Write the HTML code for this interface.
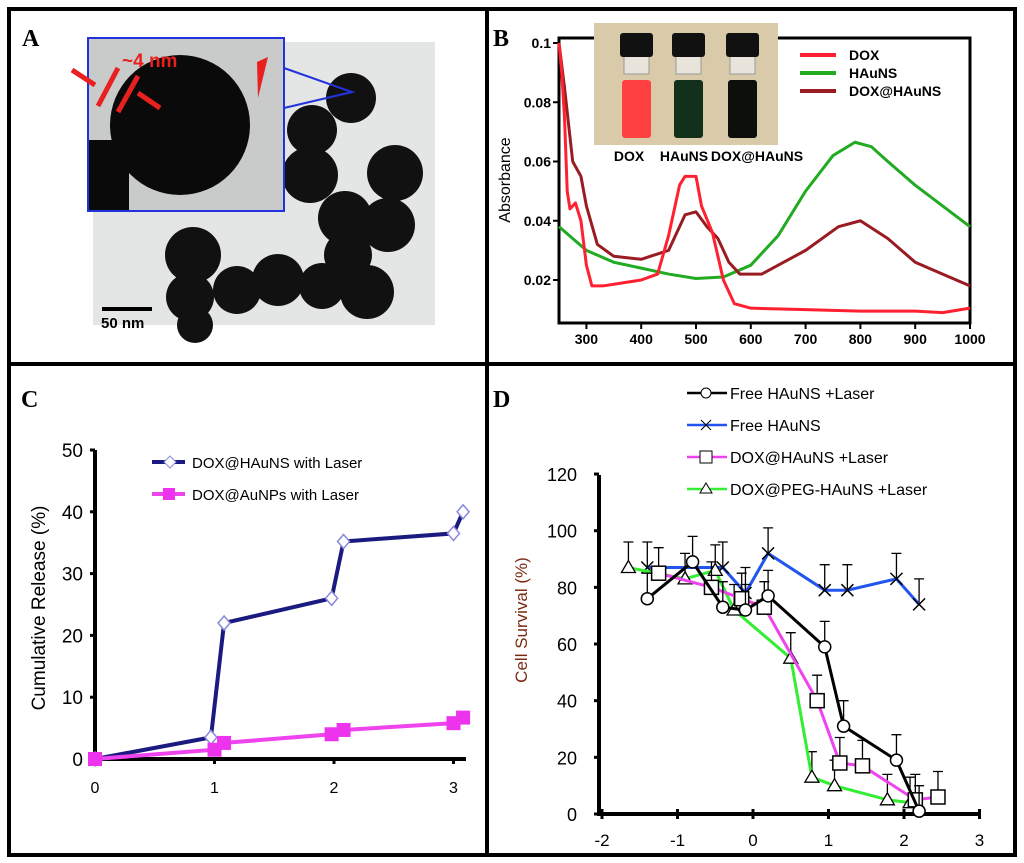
<!DOCTYPE html>
<html><head><meta charset="utf-8"><style>
body{margin:0;background:#fff;}
svg{display:block;font-family:"Liberation Sans",sans-serif;}
</style></head><body>
<svg id="fig" width="1024" height="863" viewBox="0 0 1024 863">
<rect x="0" y="0" width="1024" height="863" fill="#fff"/>
<g fill="none" stroke="#000" stroke-width="4">
<rect x="9" y="9" width="1006" height="846"/>
<line x1="487" y1="9" x2="487" y2="855"/>
<line x1="9" y1="364" x2="1015" y2="364"/>
</g>
<g font-family="Liberation Serif,serif" font-weight="bold" font-size="24">
<text x="22" y="46">A</text>
<text x="493" y="46">B</text>
<text x="21" y="407">C</text>
<text x="493" y="407">D</text>
</g>
<!-- Panel A: TEM image -->
<g>
<rect x="93" y="42" width="342" height="283" fill="#e4e6e6"/>
<g fill="#111">
<circle cx="351" cy="98" r="25"/><circle cx="312" cy="130" r="25"/><circle cx="310" cy="175" r="28"/>
<circle cx="395" cy="173" r="28"/><circle cx="345" cy="218" r="27"/><circle cx="388" cy="225" r="27"/>
<circle cx="348" cy="255" r="24"/><circle cx="193" cy="255" r="28"/><circle cx="190" cy="297" r="24"/>
<circle cx="237" cy="290" r="24"/><circle cx="278" cy="280" r="26"/><circle cx="322" cy="286" r="23"/>
<circle cx="367" cy="292" r="27"/><circle cx="195" cy="325" r="18"/>
</g>
<rect x="102" y="307" width="50" height="4" fill="#000"/>
<text x="101" y="328" font-size="15" font-weight="bold">50 nm</text>
<g>
<rect x="88" y="38" width="196" height="173" fill="#c9cbcb" stroke="#2233dd" stroke-width="2"/>
<circle cx="180" cy="125" r="70" fill="#0a0a0a"/>
<rect x="89" y="140" width="40" height="70" fill="#0a0a0a"/>
<polyline points="284,68 352,92 284,108" fill="none" stroke="#2233dd" stroke-width="2"/>
<text x="122" y="67" font-size="19" font-weight="bold" fill="#e82020">~4 nm</text>
<g stroke="#e82020" stroke-width="5" fill="#e82020">
<line x1="72" y1="70" x2="95" y2="85"/><line x1="98" y1="106" x2="118" y2="68"/>
<line x1="118" y1="112" x2="138" y2="76"/><line x1="160" y1="108" x2="138" y2="93"/>
</g>
<polygon points="257,62 268,57 258,98" fill="#e82020"/>
</g>
</g>
<!-- Panel B -->
<g id="pb"></g>
<!-- Panel C -->
<g id="pc"></g>
<!-- Panel D -->
<g id="pd"></g>
</svg>
<script>
const NS="http://www.w3.org/2000/svg";
function mk(p,t,a){const e=document.createElementNS(NS,t);for(const k in a)e.setAttribute(k,a[k]);p.appendChild(e);return e;}

// ---- Panel B data ----
const bDoxW=[250,255,260,265,270,280,290,300,310,330,400,430,450,470,480,500,510,530,550,570,600,700,800,900,950,1000];
const bDoxA=[0.1,0.09,0.075,0.05,0.044,0.046,0.04,0.025,0.018,0.018,0.02,0.022,0.035,0.052,0.055,0.055,0.045,0.036,0.02,0.012,0.0105,0.01,0.0095,0.0095,0.009,0.0105];
const bHauW=[250,300,350,400,450,500,550,600,650,700,750,790,820,850,900,950,1000];
const bHauA=[0.038,0.03,0.026,0.024,0.022,0.0205,0.021,0.025,0.035,0.05,0.062,0.0665,0.065,0.06,0.052,0.045,0.038];
const bDhW=[250,260,275,290,300,320,350,400,450,480,500,520,540,560,580,620,700,760,800,850,900,950,1000];
const bDhA=[0.1,0.085,0.06,0.055,0.045,0.032,0.028,0.027,0.03,0.042,0.043,0.038,0.034,0.026,0.022,0.022,0.03,0.038,0.04,0.034,0.026,0.022,0.018];
const bXTicks=[300,400,500,600,700,800,900,1000];
const bYTicks=[0.02,0.04,0.06,0.08,0.1];
const bYLabels=["0.02","0.04","0.06","0.08","0.1"];
const bx=w=>559+(w-250)*0.548, by=a=>280-(a-0.02)/0.02*59.25;
{
const g=document.getElementById('pb');
const ax=mk(g,'path',{d:'M559 38 L559 323 L970 323 L970 38 Z',fill:'none',stroke:'#000','stroke-width':3});

bXTicks.forEach(t=>{mk(g,'line',{x1:bx(t),y1:323,x2:bx(t),y2:329,stroke:'#000','stroke-width':2});
 const tx=mk(g,'text',{x:bx(t),y:344,'text-anchor':'middle','font-size':14,'font-weight':'bold'});tx.textContent=t;
 });
bYTicks.forEach((t,i)=>{mk(g,'line',{x1:553,y1:by(t),x2:559,y2:by(t),stroke:'#000','stroke-width':2});
 const tx=mk(g,'text',{x:551,y:by(t)+5,'text-anchor':'end','font-size':14,'font-weight':'bold'});tx.textContent=bYLabels[i];
 });
const yt=mk(g,'text',{x:0,y:0,transform:'translate(510,180) rotate(-90)','text-anchor':'middle','font-size':16});yt.textContent='Absorbance';

[[bHauW,bHauA,'#22aa22','hauns'],[bDhW,bDhA,'#991c22','dox-hauns'],[bDoxW,bDoxA,'#ff2030','dox']].forEach(s=>{
 const pl=mk(g,'polyline',{points:s[0].map((w,i)=>bx(w)+','+by(s[1][i])).join(' '),fill:'none',stroke:s[2],'stroke-width':3,'stroke-linejoin':'round'});
 });
// inset photo
const ph=mk(g,'g',{});
mk(ph,'rect',{x:594,y:23,width:184,height:122,fill:'#d9cba9'});
[[620,'#ff4040'],[672,'#12301c'],[726,'#0d0f0d']].forEach(v=>{
 mk(ph,'rect',{x:v[0]+4,y:44,width:25,height:30,fill:'#e8e4dc',stroke:'#999'});
 mk(ph,'rect',{x:v[0]+2,y:80,width:29,height:58,fill:'#f0ece6',rx:3});
 mk(ph,'rect',{x:v[0]+2,y:80,width:29,height:58,fill:v[1],rx:3});
 mk(ph,'rect',{x:v[0],y:33,width:33,height:24,fill:'#111',rx:3});});
[['DOX',629],['HAuNS',684],['DOX@HAuNS',757]].forEach(l=>{const tx=mk(g,'text',{x:l[1],y:161,'text-anchor':'middle','font-size':14,'font-weight':'bold'});tx.textContent=l[0];
 });
[['DOX','#ff2030'],['HAuNS','#22aa22'],['DOX@HAuNS','#991c22']].forEach((l,i)=>{const yy=55+i*18;
 mk(g,'line',{x1:800,y1:yy,x2:836,y2:yy,stroke:l[1],'stroke-width':4});
 const tx=mk(g,'text',{x:849,y:yy+5,'font-size':14,'font-weight':'bold'});tx.textContent=l[0];
 });
}

// ---- Panel C data ----
const cBlueX=[0,0.97,1.08,1.98,2.08,3.0,3.08];
const cBlueY=[0,3.5,22,26,35.2,36.5,40];
const cPinkX=[0,1,1.08,1.98,2.08,3.0,3.08];
const cPinkY=[0,1.5,2.6,4,4.7,5.8,6.7];
const cXTicks=[0,1,2,3];
const cYTicks=[0,10,20,30,40,50];
const cx=v=>95+v*119.5, cy=v=>759-v*6.18;
{
const g=document.getElementById('pc');
mk(g,'polyline',{points:'95,450 95,759 466,759',fill:'none',stroke:'#000','stroke-width':4});
cXTicks.forEach(t=>{mk(g,'line',{x1:cx(t),y1:759,x2:cx(t),y2:764,stroke:'#000','stroke-width':3});
 const tx=mk(g,'text',{x:cx(t),y:793,'text-anchor':'middle','font-size':16});tx.textContent=t;
 });
cYTicks.forEach(t=>{mk(g,'line',{x1:90,y1:cy(t),x2:95,y2:cy(t),stroke:'#000','stroke-width':3});
 const tx=mk(g,'text',{x:83,y:cy(t)+7,'text-anchor':'end','font-size':19});tx.textContent=t;
 });
const yt=mk(g,'text',{x:0,y:0,transform:'translate(45,608) rotate(-90)','text-anchor':'middle','font-size':19});yt.textContent='Cumulative Release (%)';

const bl=mk(g,'polyline',{points:cBlueX.map((x,i)=>cx(x)+','+cy(cBlueY[i])).join(' '),fill:'none',stroke:'#1a1a80','stroke-width':4});

cBlueX.forEach((x,i)=>{const p=mk(g,'path',{d:`M${cx(x)} ${cy(cBlueY[i])-7} l6 7 l-6 7 l-6 -7 Z`,fill:'#fff',stroke:'#8888dd','stroke-width':1.5});
 });
const pk=mk(g,'polyline',{points:cPinkX.map((x,i)=>cx(x)+','+cy(cPinkY[i])).join(' '),fill:'none',stroke:'#ee44ee','stroke-width':4});

cPinkX.forEach((x,i)=>{const p=mk(g,'rect',{x:cx(x)-7,y:cy(cPinkY[i])-7,width:14,height:14,fill:'#ee33ee'});
 });
mk(g,'line',{x1:152,y1:462,x2:185,y2:462,stroke:'#1a1a80','stroke-width':4});
mk(g,'path',{d:'M170 456 l6 6 l-6 6 l-6 -6 Z',fill:'#fff',stroke:'#8888dd'});
mk(g,'line',{x1:152,y1:494,x2:185,y2:494,stroke:'#ee44ee','stroke-width':4});
mk(g,'rect',{x:163,y:488,width:12,height:12,fill:'#ee33ee'});
[['DOX@HAuNS with Laser',468],['DOX@AuNPs with Laser',500]].forEach(l=>{const tx=mk(g,'text',{x:192,y:l[1],'font-size':15});tx.textContent=l[0];
 });
}

// ---- Panel D data ----
const dCircX=[-1.4,-0.8,-0.4,-0.1,0.2,0.95,1.2,1.9,2.2];
const dCircY=[76,89,73,72,77,59,31,19,1];
const dCrossX=[-1.4,-0.4,-0.1,0.2,0.95,1.25,1.9,2.2];
const dCrossY=[87,87,78,92,79,79,83,74];
const dSqX=[-1.25,-0.55,-0.15,0.15,0.85,1.15,1.45,2.15,2.45];
const dSqY=[85,80,76,73,40,18,17,5,6];
const dTriX=[-1.65,-0.9,-0.5,-0.25,0.5,0.78,1.08,1.78,2.08];
const dTriY=[87,83,86,72,55,13,10,5,4];
const dXTicks=[-2,-1,0,1,2,3];
const dYTicks=[0,20,40,60,80,100,120];
const dx=v=>753+v*75.5, dy=v=>814-v*2.833;
{
const g=document.getElementById('pd');
mk(g,'polyline',{points:'599,475 599,814 979,814',fill:'none',stroke:'#000','stroke-width':4});
dXTicks.forEach(t=>{mk(g,'line',{x1:dx(t),y1:809,x2:dx(t),y2:819,stroke:'#000','stroke-width':3});
 const tx=mk(g,'text',{x:dx(t),y:846,'text-anchor':'middle','font-size':17});tx.textContent=t;
 });
dYTicks.forEach(t=>{mk(g,'line',{x1:594,y1:dy(t),x2:599,y2:dy(t),stroke:'#000','stroke-width':3});
 const tx=mk(g,'text',{x:577,y:dy(t)+7,'text-anchor':'end','font-size':18});tx.textContent=t;
 });
const yt=mk(g,'text',{x:0,y:0,transform:'translate(527,620) rotate(-90)','text-anchor':'middle','font-size':17,fill:'#7a2a10'});yt.textContent='Cell Survival (%)';

const series=[[dCrossX,dCrossY,'#2255ee','cross','free-hauns'],[dTriX,dTriY,'#33ee33','tri','dox-peg'],[dSqX,dSqY,'#ee44ee','sq','dox-hauns'],[dCircX,dCircY,'#000','circ','free-hauns-laser']];
series.forEach(s=>{
 s[0].forEach((x,i)=>{const X=dx(x),Y=dy(s[1][i]),e=dy(s[1][i]+9);
  mk(g,'path',{d:`M${X} ${Y} V${e} M${X-5} ${e} H${X+5}`,stroke:'#000','stroke-width':1.3,fill:'none'});});
 const pl=mk(g,'polyline',{points:s[0].map((x,i)=>dx(x)+','+dy(s[1][i])).join(' '),fill:'none',stroke:s[2],'stroke-width':3});
 
 s[0].forEach((x,i)=>{const X=dx(x),Y=dy(s[1][i]);let m;
  if(s[3]=='circ')m=mk(g,'circle',{cx:X,cy:Y,r:6,fill:'#fff',stroke:'#000','stroke-width':1.5});
  else if(s[3]=='sq')m=mk(g,'rect',{x:X-7,y:Y-7,width:14,height:14,fill:'#fff',stroke:'#000','stroke-width':1.5});
  else if(s[3]=='tri')m=mk(g,'path',{d:`M${X} ${Y-7} L${X+7} ${Y+5} L${X-7} ${Y+5} Z`,fill:'#fff',stroke:'#000','stroke-width':1.3});
  else m=mk(g,'path',{d:`M${X-6} ${Y-6} L${X+6} ${Y+6} M${X+6} ${Y-6} L${X-6} ${Y+6}`,stroke:'#000','stroke-width':1.5});
  });
});
const leg=[['Free HAuNS  +Laser','#000','circ'],['Free HAuNS','#2255ee','cross'],['DOX@HAuNS  +Laser','#ee44ee','sq'],['DOX@PEG-HAuNS  +Laser','#33ee33','tri']];
leg.forEach((l,i)=>{const Y=393+i*32,X=706;
 mk(g,'line',{x1:687,y1:Y,x2:727,y2:Y,stroke:l[1],'stroke-width':2.5});
 if(l[2]=='circ')mk(g,'circle',{cx:X,cy:Y,r:5,fill:'#fff',stroke:'#000'});
 else if(l[2]=='sq')mk(g,'rect',{x:X-6,y:Y-6,width:12,height:12,fill:'#fff',stroke:'#000'});
 else if(l[2]=='tri')mk(g,'path',{d:`M${X} ${Y-6} L${X+6} ${Y+4} L${X-6} ${Y+4} Z`,fill:'#fff',stroke:'#000'});
 else mk(g,'path',{d:`M${X-5} ${Y-5} L${X+5} ${Y+5} M${X+5} ${Y-5} L${X-5} ${Y+5}`,stroke:'#000'});
 const tx=mk(g,'text',{x:730,y:Y+6,'font-size':16});tx.textContent=l[0];
 });
}
</script>
</body></html>
